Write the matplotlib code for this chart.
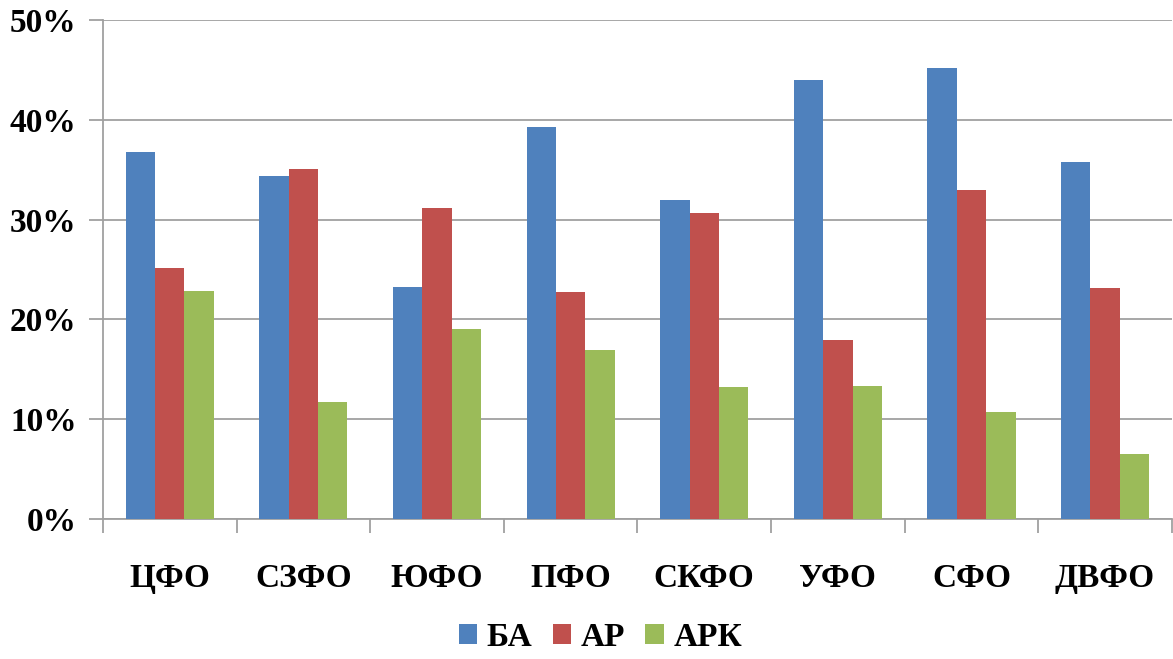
import numpy as np
import matplotlib.pyplot as plt
from matplotlib.ticker import FixedLocator, PercentFormatter

regions = ["ЦФО", "СЗФО", "ЮФО", "ПФО", "СКФО", "УФО", "СФО", "ДВФО"]
ba = [36.8, 34.4, 23.2, 39.3, 32.0, 44.0, 45.2, 35.8]
ar = [25.1, 35.1, 31.2, 22.7, 30.7, 17.9, 33.0, 23.1]
ark = [22.8, 11.7, 19.0, 16.9, 13.2, 13.3, 10.7, 6.5]
series_names = ["БА", "АР", "АРК"]
colors = ["#4F81BD", "#C0504D", "#9BBB59"]

plt.rcParams['font.family'] = ['Liberation Serif', 'DejaVu Serif']
plt.rcParams['font.weight'] = 'bold'

fig = plt.figure(figsize=(11.73, 6.59), dpi=100)
ax = fig.add_axes([0.0878, 0.2124, 0.9112, 0.7573])

x = np.arange(len(regions))
w = 0.22
for i, (vals, name, c) in enumerate(zip([ba, ar, ark], series_names, colors)):
    ax.bar(x + (i - 1) * w, vals, width=w, color=c, label=name, zorder=3)

ax.set_xlim(-0.5, len(regions) - 0.5)
ax.set_ylim(0, 50)
ax.set_yticks(np.arange(0, 51, 10))
ax.yaxis.set_major_formatter(PercentFormatter(decimals=0))
ax.grid(axis='y', color='#A0A0A0', linewidth=1.3, zorder=0)

ax.set_xticks(x)
ax.set_xticklabels(regions, fontsize=24, fontweight='bold')
ax.tick_params(axis='x', which='major', length=0, pad=32)
ax.xaxis.set_minor_locator(FixedLocator(np.arange(-0.5, len(regions), 1)))
ax.tick_params(axis='x', which='minor', length=10, color='#A0A0A0', width=1.3)
ax.tick_params(axis='y', length=10, color='#A0A0A0', width=1.3, labelsize=24, pad=9)
for lab in ax.get_yticklabels():
    lab.set_fontweight('bold')

for s in ['top', 'right']:
    ax.spines[s].set_visible(False)
for s in ['left', 'bottom']:
    ax.spines[s].set_color('#A0A0A0')
    ax.spines[s].set_linewidth(1.3)

fig.legend(loc='center', bbox_to_anchor=(0.512, 0.033), ncol=3, frameon=False,
           prop={'size': 24, 'weight': 'bold'}, handlelength=0.55, handleheight=0.55,
           handletextpad=0.3, columnspacing=0.6)

fig.savefig("out.png", dpi=100)
